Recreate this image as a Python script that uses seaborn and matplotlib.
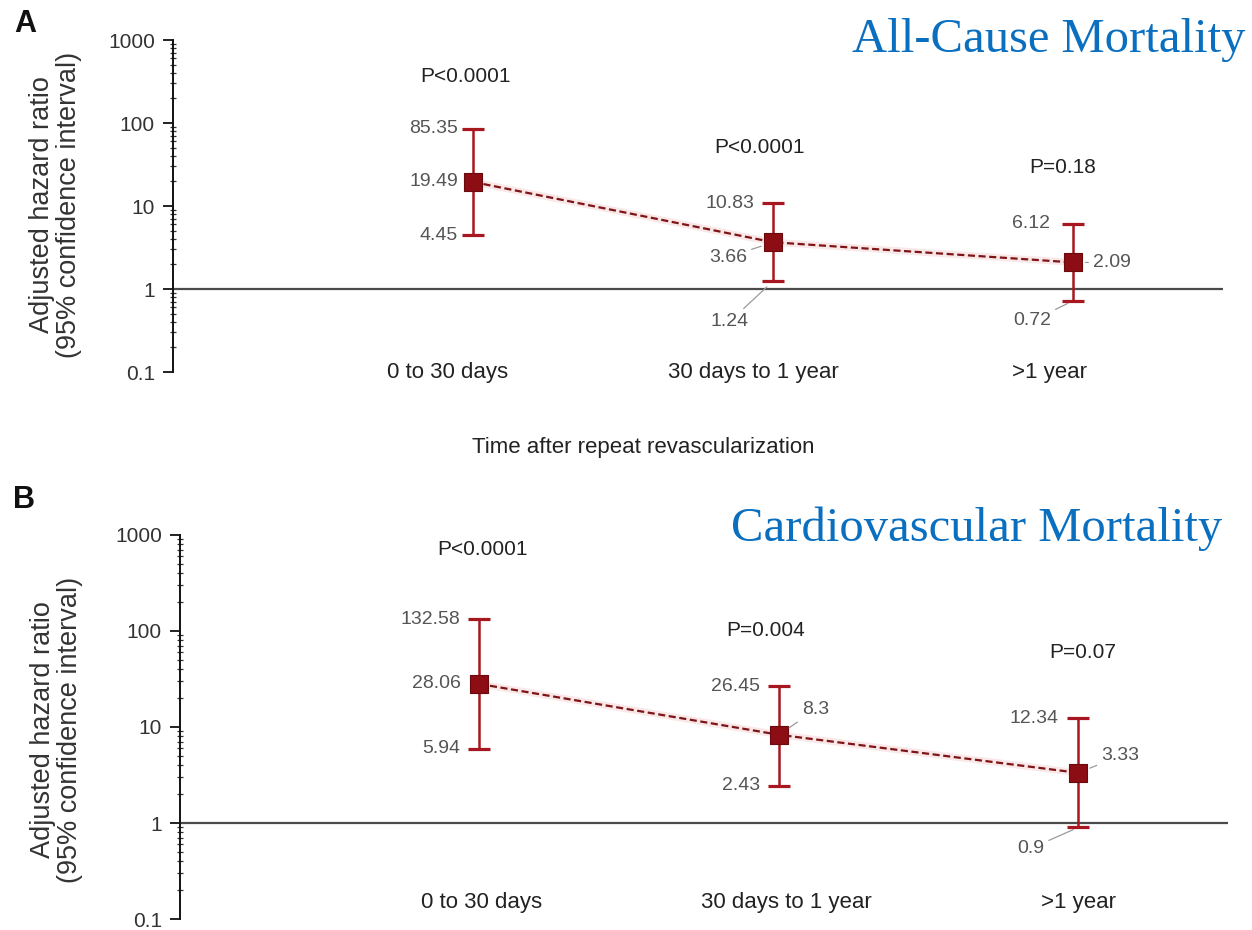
import matplotlib
matplotlib.use("Agg")
import numpy as np
import pandas as pd
import matplotlib.pyplot as plt
from matplotlib.ticker import FixedLocator, FixedFormatter, LogLocator, NullFormatter
import seaborn as sns

# ---- data -------------------------------------------------------------
periods = ["0 to 30 days", "30 days to 1 year", ">1 year"]

allcause_hr = [19.49, 3.66, 2.09]
allcause_lo = [4.45, 1.24, 0.72]
allcause_hi = [85.35, 10.83, 6.12]
allcause_p = ["P<0.0001", "P<0.0001", "P=0.18"]

cv_hr = [28.06, 8.3, 3.33]
cv_lo = [5.94, 2.43, 0.9]
cv_hi = [132.58, 26.45, 12.34]
cv_p = ["P<0.0001", "P=0.004", "P=0.07"]

y_ticks = [0.1, 1, 10, 100, 1000]
y_ticklabels = ["0.1", "1", "10", "100", "1000"]

# ---- style ------------------------------------------------------------
sns.set_style("white")
plt.rcParams["font.family"] = ["Liberation Sans", "DejaVu Sans"]

W, H = 1252, 930
fig = plt.figure(figsize=(W / 100, H / 100), dpi=100)
fig.patch.set_facecolor("white")

MARK = "#8c0d13"
BAR = "#a8161f"
LINE = "#7d1416"
GREY = "#555555"
DARK = "#222222"
BLUE = "#0b6fc0"


def px_axes(left, right, top, bottom):
    return fig.add_axes([left / W, 1 - bottom / H, (right - left) / W, (bottom - top) / H])


def draw_panel(ax, hr, lo, hi, pvals, label_layout, p_offsets, cat_y):
    df = pd.DataFrame({"x": np.arange(len(periods)), "period": periods,
                       "hr": hr, "lo": lo, "hi": hi})
    ax.set_yscale("log")
    ax.set_ylim(0.1, 1000)
    ax.set_xlim(-1.0, 2.5)

    ax.axhline(1, color="#4a4a4a", lw=1.6, zorder=1)

    # connector between point estimates, with a faint halo
    sns.lineplot(data=df, x="x", y="hr", ax=ax, color="#e0666a", lw=5,
                 alpha=0.15, zorder=2, legend=False)
    sns.lineplot(data=df, x="x", y="hr", ax=ax, color=LINE, lw=1.6,
                 linestyle=(0, (3.2, 1.6)), zorder=3, legend=False)

    # 95% confidence intervals
    yerr = np.vstack([df["hr"] - df["lo"], df["hi"] - df["hr"]])
    ax.errorbar(df["x"], df["hr"], yerr=yerr, fmt="none", ecolor=BAR,
                elinewidth=1.8, capsize=8, capthick=2.3, zorder=4)

    sns.scatterplot(data=df, x="x", y="hr", ax=ax, marker="s", s=175,
                    color=MARK, edgecolor="#6a0a0e", linewidth=0.8,
                    zorder=5, legend=False)

    # value labels
    for i, row in df.iterrows():
        for key in ("hi", "hr", "lo"):
            dx, dy, leader, shrink = label_layout[i][key]
            val = row[key]
            text = f"{val:g}"
            ha = "left" if dx > 0 else "right"
            kw = {}
            if leader:
                kw["arrowprops"] = dict(arrowstyle="-", color="#9a9a9a", lw=0.9,
                                        shrinkA=1, shrinkB=shrink,
                                        connectionstyle="arc3,rad=0.0")
            ax.annotate(text, xy=(row["x"], val), xytext=(dx, dy),
                        textcoords="offset pixels", ha=ha, va="center",
                        fontsize=14, color=GREY, zorder=6, **kw)

    # p-values above each interval
    for i, row in df.iterrows():
        dx, dy = p_offsets[i]
        ax.annotate(pvals[i], xy=(row["x"], row["hi"]), xytext=(dx, dy),
                    textcoords="offset pixels", ha="center", va="center",
                    fontsize=15, color=DARK)

    # category labels
    for i, row in df.iterrows():
        dx, frac = cat_y[i]
        ax.annotate(row["period"], xy=(row["x"], frac),
                    xycoords=("data", "axes fraction"), xytext=(dx, 0),
                    textcoords="offset pixels", ha="center", va="center",
                    fontsize=16, color=DARK)

    # axes styling
    for side in ("top", "right", "bottom"):
        ax.spines[side].set_visible(False)
    ax.spines["left"].set_color("#111111")
    ax.spines["left"].set_linewidth(1.4)
    ax.set_xticks([])
    ax.set_xlabel("")
    ax.set_ylabel("")
    ax.yaxis.set_major_locator(FixedLocator(y_ticks))
    ax.yaxis.set_major_formatter(FixedFormatter(y_ticklabels))
    ax.yaxis.set_minor_locator(LogLocator(base=10, subs=np.arange(2, 10)))
    ax.yaxis.set_minor_formatter(NullFormatter())
    ax.tick_params(axis="y", which="both", left=True)
    ax.tick_params(axis="y", which="major", direction="out", length=7,
                   width=1.3, color="#111111", labelsize=15, labelcolor="#333333", pad=6)
    ax.tick_params(axis="y", which="minor", direction="inout", length=5,
                   width=0.9, color="#333333")
    ax.patch.set_alpha(0)


# ---- panel A: all-cause mortality ------------------------------------
axA = px_axes(173, 1223, 40, 372)
layout_A = [
    {"hi": (-15, 0, False, 0), "hr": (-15, 0, False, 0), "lo": (-15, 0, False, 0)},
    {"hi": (-19, 0, False, 0), "hr": (-26, -15, True, 9), "lo": (-24, -40, True, 6)},
    {"hi": (-23, 0, False, 0), "hr": (20, 0, True, 9), "lo": (-22, -20, True, 4)},
]
p_off_A = [(-7, 52), (-14, 56), (-10, 56)]
cat_A = [(-25, 0.0), (-20, 0.0), (-24, 0.0)]
draw_panel(axA, allcause_hr, allcause_lo, allcause_hi, allcause_p,
           layout_A, p_off_A, cat_A)

# ---- panel B: cardiovascular mortality -------------------------------
axB = px_axes(180, 1228, 535, 919)
layout_B = [
    {"hi": (-19, 0, False, 0), "hr": (-19, 0, False, 0), "lo": (-19, 0, False, 0)},
    {"hi": (-19, 0, False, 0), "hr": (23, 25, True, 9), "lo": (-19, 0, False, 0)},
    {"hi": (-20, 0, False, 0), "hr": (23, 17, True, 9), "lo": (-34, -21, True, 4)},
]
p_off_B = [(3, 70), (-13, 56), (4, 66)]
cat_B = [(2, 0.044), (8, 0.044), (0, 0.044)]
draw_panel(axB, cv_hr, cv_lo, cv_hi, cv_p, layout_B, p_off_B, cat_B)

# ---- figure-level text -----------------------------------------------
fig.text(56 / W, 1 - 205 / H, "Adjusted hazard ratio\n(95% confidence interval)",
         rotation=90, ha="center", va="center", fontsize=19.5, color="#333333",
         linespacing=1.05, multialignment="center")
fig.text(57 / W, 1 - 730 / H, "Adjusted hazard ratio\n(95% confidence interval)",
         rotation=90, ha="center", va="center", fontsize=19.5, color="#333333",
         linespacing=1.05, multialignment="center")

fig.text(643 / W, 1 - 447 / H, "Time after repeat revascularization",
         ha="center", va="center", fontsize=16, color=DARK)

fig.text(14 / W, 1 - 24 / H, "A", ha="left", va="center", fontsize=22,
         fontweight="bold", color="#111111")
fig.text(13 / W, 1 - 500 / H, "B", ha="left", va="center", fontsize=22,
         fontweight="bold", color="#111111")

fig.text(1245 / W, 1 - 52 / H, "All-Cause Mortality", ha="right", va="baseline",
         fontsize=35, color=BLUE, family=["Liberation Serif", "DejaVu Serif"])
fig.text(1222 / W, 1 - 541 / H, "Cardiovascular Mortality", ha="right", va="baseline",
         fontsize=35, color=BLUE, family=["Liberation Serif", "DejaVu Serif"])

fig.savefig("out.png", dpi=100, facecolor="white")
